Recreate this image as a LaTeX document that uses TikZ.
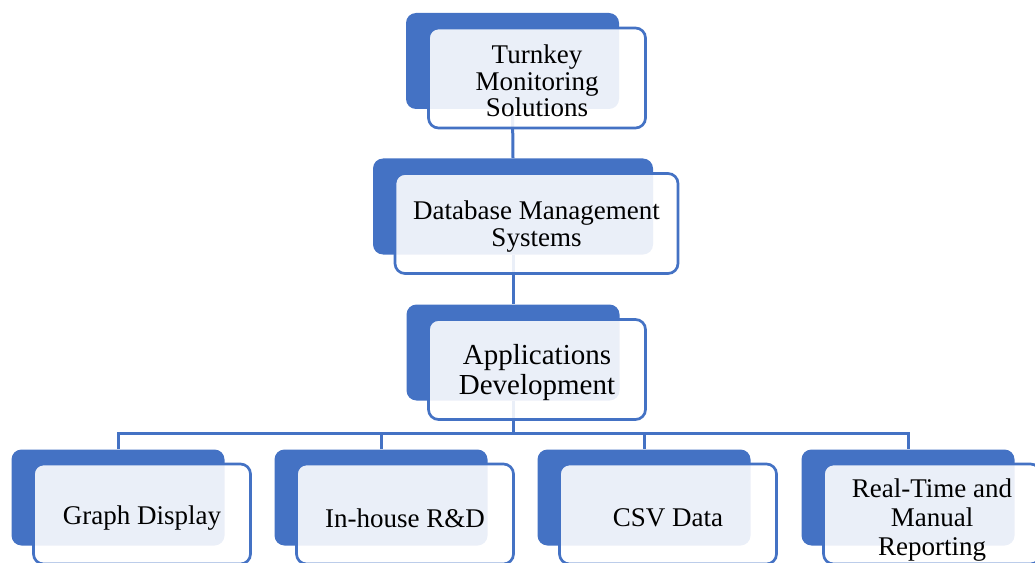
\documentclass[tikz,border=0pt]{standalone}
\usepackage{fontspec}
\setmainfont{Liberation Serif}
\definecolor{accent}{HTML}{4472C4}
\begin{document}
\begin{tikzpicture}[x=0.75pt,y=-0.75pt,
  backbox/.style={fill=accent,draw=none,rounded corners=7.5pt,inner sep=0pt,
    minimum width=159.75pt,minimum height=72pt},
  widebackbox/.style={backbox,minimum width=210pt},
  frontbox/.style={draw=accent,line width=2pt,fill=white,fill opacity=0.89,
    rounded corners=7.5pt,inner sep=0pt,minimum width=162.75pt,minimum height=75pt},
  widefrontbox/.style={frontbox,minimum width=212.25pt},
  boxtext/.style={inner sep=0pt,align=center,font=\fontsize{20.25}{20}\selectfont},
  bigtext/.style={boxtext,font=\fontsize{21.75}{22.5}\selectfont},
  lowtext/.style={boxtext,font=\fontsize{20.25}{21.75}\selectfont},
  link/.style={draw=accent,line width=2.25pt}]
\useasboundingbox (0,0) rectangle (1035,563);
\clip (0,0) rectangle (1035,563);
% back boxes
\node[backbox] (b1) at (512.5,61) {};
\node[widebackbox] (b2) at (513,206.5) {};
\node[backbox] (b3) at (513,352.5) {};
\node[backbox] (c1) at (118,497.5) {};
\node[backbox] (c2) at (381,497.5) {};
\node[backbox] (c3) at (644,497.5) {};
\node[backbox] (c4) at (908,497.5) {};
% connectors
\coordinate (bus) at (513,433);
\draw[link] (b1.south) -- (b2.north);
\draw[link] (b2.south) -- (b3.north);
\draw[link] (b3.south) -- (bus);
\draw[link] (c1.north) |- (bus) -| (c4.north);
\draw[link] (c2.north) -- (c2.north |- bus);
\draw[link] (c3.north) -- (c3.north |- bus);
% front boxes
\node[frontbox] (f1) at (537,78) {};
\node[widefrontbox] (f2) at (536.5,223.5) {};
\node[frontbox] (f3) at (537,369.5) {};
\node[frontbox] (g1) at (142,514) {};
\node[frontbox] (g2) at (405,514) {};
\node[frontbox] (g3) at (668,514) {};
\node[frontbox] (g4) at (932,514) {};
% texts
\node[boxtext] (t1) at ([yshift=-2.25pt]f1.center) {Turnkey\\Monitoring\\Solutions};
\node[boxtext] (t2) at ([yshift=-2.25pt]f2.center) {Database Management\\Systems};
\node[bigtext] (t3) at ([yshift=-2.25pt]f3.center) {Applications\\Development};
\node[boxtext] (u1) at ([yshift=-3pt]g1.center) {Graph Display};
\node[boxtext] (u2) at ([yshift=-3pt]g2.center) {In-house R\&D};
\node[boxtext] (u3) at ([yshift=-3pt]g3.center) {CSV Data};
\node[lowtext] (u4) at ([yshift=-4.5pt]g4.center) {Real-Time and\\Manual\\Reporting};
\end{tikzpicture}
\end{document}
